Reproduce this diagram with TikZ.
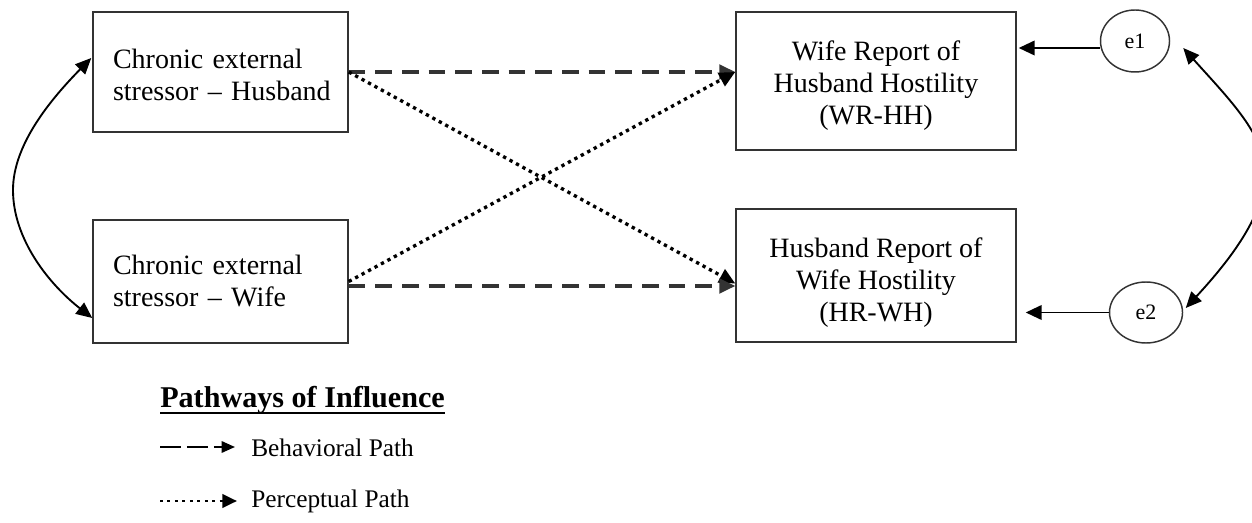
\documentclass[tikz,border=0pt]{standalone}
\usepackage{fontspec}
\setmainfont{Liberation Serif}
\usetikzlibrary{arrows.meta,shapes.geometric,calc}
\definecolor{framegray}{HTML}{333333}
\definecolor{pathgray}{HTML}{333333}
\newcommand{\lift}[1]{\rule{0pt}{#1}}
\begin{document}
\begin{tikzpicture}[x=0.75pt,y=-0.75pt,
  box/.style={draw=framegray, line width=1.1pt, inner sep=0pt,
    font=\fontsize{21}{24}\selectfont},
  lbox/.style={box, align=left, text width=161.25pt, inner xsep=15pt},
  rbox/.style={box, align=center, minimum width=210pt},
  errnode/.style={ellipse, draw=framegray, line width=1.1pt, inner sep=0pt,
    font=\fontsize{16.5}{18}\selectfont},
  bigtip/.style={-{Triangle[length=12pt,width=11pt]}},
  dashln/.style={bigtip, draw=pathgray, line width=2.3pt, dash pattern=on 12.5pt off 7.5pt},
  dotln/.style={bigtip, draw=black, line width=2.5pt, dash pattern=on 2.5pt off 3pt},
  solidarr/.style={bigtip, line width=1.4pt},
  twoway/.style={{Triangle[length=12pt,width=10.5pt]}-{Triangle[length=12pt,width=10.5pt]}, line width=1.4pt},
  legtext/.style={anchor=base west, inner sep=0pt, font=\fontsize{19}{22}\selectfont},
  legdash/.style={-{Triangle[length=10pt,width=8.5pt]}, line width=1.6pt, dash pattern=on 16pt off 4.2pt},
  legdot/.style={-{Triangle[length=11pt,width=10pt]}, line width=2.1pt, dash pattern=on 2.1pt off 3.5pt}
]
\useasboundingbox (0,0) rectangle (1252,523);

% predictor boxes
\node[lbox, minimum height=90pt] (ceh) at (220.5,72)
  {\lift{19pt}Chronic external\\\mbox{stressor -- Husband}};
\node[lbox, minimum height=92.25pt] (cew) at (220.5,281.5)
  {Chronic external\\\mbox{stressor -- Wife}};

% outcome boxes
\node[rbox, minimum height=103.5pt] (wr) at (876,81)
  {\lift{21pt}Wife Report of\\Husband Hostility\\(WR-HH)};
\node[rbox, minimum height=99.75pt] (hr) at (876,275.5)
  {\lift{25pt}Husband Report of\\Wife Hostility\\(HR-WH)};

% error terms
\node[errnode, minimum width=51.75pt, minimum height=46.5pt] (e1) at (1135,41) {e1};
\node[errnode, minimum width=54.75pt, minimum height=45.75pt] (e2) at (1146,312.5) {e2};

% behavioral and perceptual paths
\draw[dashln] (ceh.east) -- (ceh.east -| wr.west);
\draw[dotln] (ceh.east) -- ($(hr.west)+(0,8)$);
\draw[dotln] (cew.east) -- (ceh.east -| wr.west);
\draw[dashln] ($(cew.east)+(0,4.5)$) -- ($(cew.east -| hr.west)+(0,4.5)$);

% residual paths
\draw[solidarr] ($(e1.west)+(0,7)$) -- ($(e1.west -| wr.east)+(2,7)$);
\draw[solidarr] (e2.west) -- ($(e2.west -| hr.east)+(9,0)$);

% covariances
\draw[twoway] ($(ceh.west)+(-1,-14)$) .. controls (50,100) and (13,145) .. (13,190)
  .. controls (13,240) and (50,285) .. ($(cew.west)+(0,36.5)$);
\draw[twoway] ($(e1.east)+(13,7)$) .. controls (1230,100) and (1265,135) .. (1265,173)
  .. controls (1265,215) and (1230,260) .. ($(e2.east)+(2.5,-4.5)$);

% legend
\node[anchor=base west, inner sep=0pt, font=\bfseries\fontsize{22.6}{26}\selectfont] (ltitle)
  at (160,407) {Pathways of Influence};
\draw[line width=2.1pt] ($(ltitle.base west)+(0,6)$) -- ($(ltitle.base east)+(0,6)$);
\coordinate (b0) at (160,447);
\coordinate (b1) at (235,447);
\draw[legdash] (b0) -- (b1);
\node[legtext] (btext) at (251,456) {Behavioral Path};
\coordinate (p0) at (160,501);
\coordinate (p1) at (237,501);
\draw[legdot] (p0) -- (p1);
\node[legtext] (ptext) at (251,507) {Perceptual Path};
\end{tikzpicture}
\end{document}
